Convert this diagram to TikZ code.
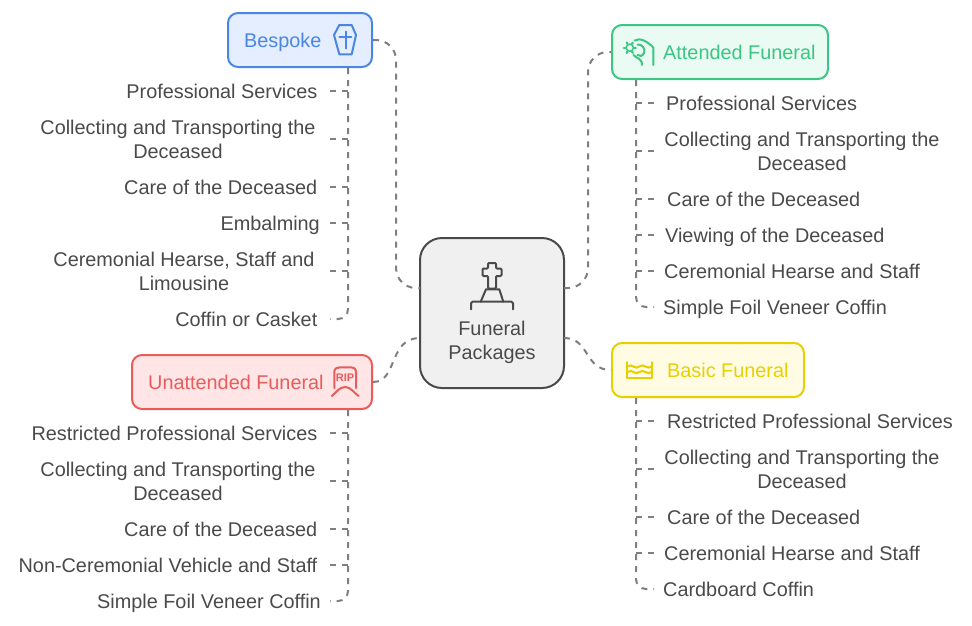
\documentclass[tikz,border=0pt]{standalone}
\usepackage{fontspec}
\setmainfont{Liberation Sans}
\definecolor{ink}{HTML}{4A4A4A}
\definecolor{dashgray}{HTML}{7F7F7F}
\definecolor{bluel}{HTML}{4A86E4}
\definecolor{bluef}{HTML}{E4EEFE}
\definecolor{greenl}{HTML}{3CC583}
\definecolor{greenf}{HTML}{E9FBF2}
\definecolor{redl}{HTML}{E85C5C}
\definecolor{redf}{HTML}{FFE5E5}
\definecolor{yell}{HTML}{E8CF00}
\definecolor{yelf}{HTML}{FFFCE3}
\definecolor{hubf}{HTML}{F0F0F0}
\tikzset{
  lbl/.style={font=\fontsize{19.85}{24}\selectfont, text=ink, inner sep=0pt, align=center, yshift=-2.4pt},
  card/.style={draw, line width=2pt, rounded corners=10pt, inner sep=0pt, minimum height=54pt},
  dashline/.style={draw=dashgray, line width=2pt, dash pattern=on 6pt off 6pt},
  glyph/.style={line width=2pt, line cap=round, line join=round},
}
\begin{document}
\begin{tikzpicture}[x=1pt,y=-1pt]
\useasboundingbox (0,0) rectangle (972,625);
\fill[white] (0,0) rectangle (972,625);

% central hub and the four package cards
\node[card, draw=ink, fill=hubf, rounded corners=22pt, minimum width=144pt, minimum height=150pt] (hub) at (492,313) {};
\node[card, draw=bluel, fill=bluef, minimum width=144pt] (bes) at (300,40) {};
\node[card, draw=greenl, fill=greenf, minimum width=216pt] (att) at (720,52) {};
\node[card, draw=redl, fill=redf, minimum width=240pt] (una) at (252,382) {};
\node[card, draw=yell, fill=yelf, minimum width=192pt] (bas) at (708,370) {};

% hub label and card labels
\node[lbl] (hubtxt) at (492,340) {\strut Funeral\\\strut Packages};
\node[lbl, text=bluel, anchor=west] (bestxt) at (244,40) {\strut Bespoke};
\node[lbl, text=greenl, anchor=west] (atttxt) at (663,52) {\strut Attended Funeral};
\node[lbl, text=redl, anchor=west] (unatxt) at (148,382) {\strut Unattended Funeral};
\node[lbl, text=yell, anchor=west] (bastxt) at (667,370) {\strut Basic Funeral};

% attachment points on the hub sides
\coordinate (hubNW) at (420,288);
\coordinate (hubSW) at (420,338);
\coordinate (hubNE) at (564,288);
\coordinate (hubSE) at (564,338);

% links between the hub and the cards
\draw[dashline, rounded corners=20pt] (bes.east) -- (396,40) -- (396,288) -- (hubNW);
\draw[dashline, rounded corners=20pt] (hubNE) -- (588,288) -- (588,52) -- (att.west);
\draw[dashline] (una.east) .. controls (398,382) and (388,338) .. (hubSW);
\draw[dashline] (hubSE) .. controls (590,338) and (584,370) .. (bas.west);

% Bespoke list
\node[lbl, anchor=east] (b1) at (317.5,91) {\strut Professional Services};
\node[lbl] (b2) at (178,139) {\strut Collecting and Transporting the\\\strut Deceased};
\node[lbl, anchor=east] (b3) at (317.5,187) {\strut Care of the Deceased};
\node[lbl, anchor=east] (b4) at (320,223) {\strut Embalming};
\node[lbl] (b5) at (184,271) {\strut Ceremonial Hearse, Staff and\\\strut Limousine};
\node[lbl, anchor=east] (b6) at (317.5,319) {\strut Coffin or Casket};
\foreach \yy in {91,139,187,223,271}{
  \draw[dashline] (330,\yy) -- (348,\yy);
}
\draw[dashline, rounded corners=10pt] (bes.south -| 348,0) -- (348,319) -- (330,319);

% Unattended list
\node[lbl, anchor=east] (u1) at (317.5,433) {\strut Restricted Professional Services};
\node[lbl] (u2) at (178,481) {\strut Collecting and Transporting the\\\strut Deceased};
\node[lbl, anchor=east] (u3) at (317.5,529) {\strut Care of the Deceased};
\node[lbl, anchor=east] (u4) at (317.5,565) {\strut Non-Ceremonial Vehicle and Staff};
\node[lbl, anchor=east] (u5) at (321,601) {\strut Simple Foil Veneer Coffin};
\foreach \yy in {433,481,529,565}{
  \draw[dashline] (330,\yy) -- (348,\yy);
}
\draw[dashline, rounded corners=10pt] (una.south -| 348,0) -- (348,601) -- (330,601);

% Attended list
\node[lbl, anchor=west] (a1) at (666,103) {\strut Professional Services};
\node[lbl] (a2) at (802,151) {\strut Collecting and Transporting the\\\strut Deceased};
\node[lbl, anchor=west] (a3) at (667,199) {\strut Care of the Deceased};
\node[lbl, anchor=west] (a4) at (665,235) {\strut Viewing of the Deceased};
\node[lbl, anchor=west] (a5) at (664,271) {\strut Ceremonial Hearse and Staff};
\node[lbl, anchor=west] (a6) at (663,307) {\strut Simple Foil Veneer Coffin};
\foreach \yy in {103,151,199,235,271}{
  \draw[dashline] (636,\yy) -- (654,\yy);
}
\draw[dashline, rounded corners=10pt] (att.south -| 636,0) -- (636,307) -- (654,307);

% Basic list
\node[lbl, anchor=west] (c1) at (667,421) {\strut Restricted Professional Services};
\node[lbl] (c2) at (802,469) {\strut Collecting and Transporting the\\\strut Deceased};
\node[lbl, anchor=west] (c3) at (667,517) {\strut Care of the Deceased};
\node[lbl, anchor=west] (c4) at (664,553) {\strut Ceremonial Hearse and Staff};
\node[lbl, anchor=west] (c5) at (663,589) {\strut Cardboard Coffin};
\foreach \yy in {421,469,517,553}{
  \draw[dashline] (636,\yy) -- (654,\yy);
}
\draw[dashline, rounded corners=10pt] (bas.south -| 636,0) -- (636,589) -- (654,589);

% gravestone glyph in the hub
\begin{scope}[glyph, draw=ink]
  \draw[rounded corners=1pt] (488,288.5) -- (488,276) -- (482.5,276) -- (482.5,268.5) -- (488,268.5) -- (488,263) -- (496,263) -- (496,268.5) -- (501.5,268.5) -- (501.5,276) -- (496,276) -- (496,288.5) -- cycle;
  \draw (480.7,301.7) -- (486,289.3) -- (499.3,289.3) -- (503.3,301.7);
  \draw[rounded corners=1.5pt] (471,309.3) -- (471,301.7) -- (513,301.7) -- (513,309.3);
\end{scope}

% coffin glyph
\begin{scope}[glyph, draw=bluel]
  \draw (339.3,25) -- (351.7,25) -- (356,35) -- (351.7,54.3) -- (339.3,54.3) -- (334,35) -- cycle;
  \draw (345.5,31.7) -- (345.5,48.3);
  \draw (339.3,37.3) -- (351.3,37.3);
\end{scope}

% headstone glyph with its RIP lettering
\begin{scope}[glyph, draw=redl]
  \draw (334.3,388) -- (334.3,372) .. controls (334.3,368.5) and (337,367.3) .. (340,367.3) -- (350,367.3) .. controls (353.5,367.3) and (356,368.5) .. (356,372) -- (356,388);
  \draw (331.7,396) .. controls (336,393) and (339,387) .. (345,387) .. controls (351,387) and (354,393) .. (358.7,396);
\end{scope}
\node[inner sep=0pt, text=redl, font=\fontsize{11}{12}\selectfont\bfseries] (rip) at (345,377.3) {RIP};

% water glyph
\begin{scope}[glyph, draw=yell]
  \draw (627.3,362) -- (627.3,377.7) -- (651.5,377.7) -- (651.5,362);
  \draw (627.3,366.5) .. controls (630,365) and (632,365) .. (633.4,366.5) .. controls (635,368) and (638,368) .. (639.4,366.5) .. controls (641,365) and (644,365) .. (645.4,366.5) .. controls (647,368) and (650,368) .. (651.5,366.5);
  \draw (627.3,372) .. controls (630,370.5) and (632,370.5) .. (633.4,372) .. controls (635,373.5) and (638,373.5) .. (639.4,372) .. controls (641,370.5) and (644,370.5) .. (645.4,372) .. controls (647,373.5) and (650,373.5) .. (651.5,372);
\end{scope}

% hand-and-flower glyph
\begin{scope}[glyph, draw=greenl]
  \draw (634.7,40.5) .. controls (640,37) and (648,42) .. (653.3,47.5) -- (653.3,65);
  \draw (633.5,55) .. controls (637,59) and (642,58) .. (642,65);
  \draw (637.5,44.5) .. controls (642,44) and (646,49) .. (644,53) .. controls (642.5,56.5) and (639,56.5) .. (637.5,55);
  \foreach \a in {0,60,...,300}{ \draw[line width=2.2pt] (629.8,47.7) ++(\a:4.6) -- ++(\a:1.4); }
  \draw[line width=1.5pt] (629.8,47.7) circle (3.6pt);
\end{scope}
\end{tikzpicture}
\end{document}
